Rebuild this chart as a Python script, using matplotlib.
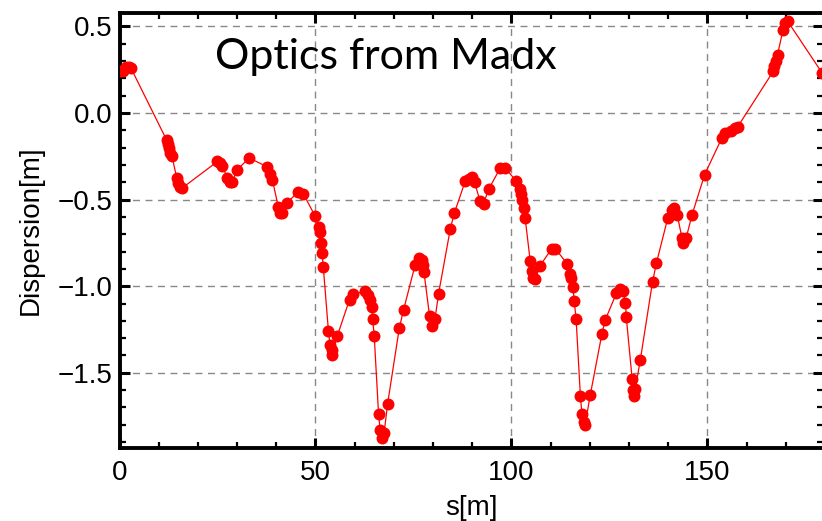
import matplotlib
matplotlib.use("Agg")
import matplotlib.pyplot as plt
from matplotlib.ticker import MultipleLocator, FuncFormatter

s_vals = [0.0, 0.9, 1.7, 2.4, 2.9, 12.0, 12.3, 12.6, 13.0, 13.4, 14.6, 15.0, 15.5, 15.9,
          25.0, 25.6, 26.2, 27.5, 28.1, 28.8, 29.9, 33.1, 37.6, 38.4, 39.0, 40.5, 41.0, 41.4,
          42.7, 45.6, 46.9, 49.9, 50.8, 51.1, 51.4, 51.7, 52.0, 53.3, 53.7, 54.1, 54.3, 55.6,
          58.7, 59.7, 62.7, 63.5, 64.0, 64.4, 64.6, 65.0, 66.1, 66.5, 66.9, 67.5, 68.4, 71.4,
          72.5, 75.4, 76.5, 77.1, 77.4, 77.7, 79.1, 79.7, 80.5, 81.4, 84.4, 85.4, 88.2, 89.3,
          89.9, 90.6, 92.0, 92.9, 94.2, 97.1, 98.4, 101.1, 102.1, 102.4, 102.8, 103.1, 103.5,
          104.8, 105.2, 105.6, 105.9, 107.2, 110.3, 111.2, 114.2, 115.0, 115.3, 115.7, 116.0,
          116.5, 117.6, 118.0, 118.6, 118.8, 120.1, 123.1, 123.9, 126.8, 127.8, 128.5, 129.1,
          129.3, 130.8, 131.0, 131.4, 131.6, 132.9, 136.0, 137.0, 139.9, 141.0, 141.4, 142.3,
          143.5, 143.9, 144.6, 146.1, 149.3, 153.7, 154.6, 155.9, 157.1, 157.7, 166.8, 167.1,
          167.6, 167.9, 169.3, 169.9, 170.5, 179.3]
dispersion = [0.24, 0.245, 0.265, 0.265, 0.26, -0.155, -0.18, -0.205, -0.23, -0.25, -0.375,
              -0.405, -0.43, -0.435, -0.28, -0.29, -0.305, -0.375, -0.40, -0.40, -0.33, -0.26,
              -0.31, -0.35, -0.385, -0.54, -0.575, -0.58, -0.52, -0.455, -0.466, -0.595, -0.66,
              -0.69, -0.75, -0.81, -0.89, -1.256, -1.337, -1.37, -1.395, -1.285, -1.077, -1.045,
              -1.03, -1.05, -1.077, -1.12, -1.19, -1.29, -1.737, -1.83, -1.875, -1.85, -1.68,
              -1.24, -1.135, -0.88, -0.837, -0.846, -0.875, -0.92, -1.17, -1.227, -1.19, -1.045,
              -0.67, -0.58, -0.395, -0.38, -0.37, -0.40, -0.51, -0.523, -0.44, -0.32, -0.317,
              -0.39, -0.44, -0.47, -0.50, -0.55, -0.606, -0.856, -0.914, -0.953, -0.96, -0.885,
              -0.783, -0.783, -0.87, -0.927, -0.952, -1.006, -1.083, -1.187, -1.635, -1.737,
              -1.785, -1.80, -1.63, -1.274, -1.197, -1.04, -1.016, -1.03, -1.096, -1.177, -1.535,
              -1.60, -1.635, -1.593, -1.424, -0.975, -0.866, -0.606, -0.558, -0.548, -0.587,
              -0.72, -0.75, -0.72, -0.587, -0.356, -0.144, -0.115, -0.106, -0.087, -0.081, 0.24,
              0.269, 0.298, 0.336, 0.48, 0.519, 0.529, 0.23]

title_text = "Optics from Madx"
xlabel = "s[m]"
ylabel = "Dispersion[m]"

plt.rcParams['font.family'] = ['Liberation Sans', 'DejaVu Sans']

fig = plt.figure(figsize=(8.22, 5.21), dpi=100)
W, H = 822.0, 521.0
x0, x1 = 119.5, 823.0
y_top, y_bot = 13.0, 448.0
ax = fig.add_axes([x0 / W, (H - y_bot) / H, (x1 - x0) / W, (y_bot - y_top) / H])

ax.plot(s_vals, dispersion, color='red', lw=0.9, marker='o', markersize=8.6,
        markeredgewidth=0, zorder=3, clip_on=True)

ax.set_xlim(0, 179.5)
ax.set_ylim(-1.934, 0.577)

ax.xaxis.set_major_locator(MultipleLocator(50))
ax.xaxis.set_minor_locator(MultipleLocator(10))
ax.yaxis.set_major_locator(MultipleLocator(0.5))
ax.yaxis.set_minor_locator(MultipleLocator(0.1))

def yfmt(v, pos):
    t = f"{v:.1f}"
    return t.replace('-', '\u2212')
ax.yaxis.set_major_formatter(FuncFormatter(yfmt))

ax.grid(True, which='major', color='#888888', linestyle=(0, (5, 4)), lw=1.0, zorder=1)

for sp in ax.spines.values():
    sp.set_linewidth(2.8)
    sp.set_color('black')

ax.tick_params(which='both', direction='in', top=True, right=True, color='black',
               labelsize=20)
ax.tick_params(which='major', length=7, width=2.2)
ax.tick_params(which='minor', length=4.5, width=1.6)
ax.tick_params(axis='x', which='major', pad=9)
ax.tick_params(axis='y', which='major', pad=5)

ax.set_xlabel(xlabel, fontsize=20, labelpad=6)
ax.set_ylabel(ylabel, fontsize=20, labelpad=10)

ax.text(0.136, 0.90, title_text, transform=ax.transAxes, ha='left', va='center',
        fontsize=31, family=['Lato', 'DejaVu Sans'], color='black')

fig.savefig("out.png", dpi=100)
